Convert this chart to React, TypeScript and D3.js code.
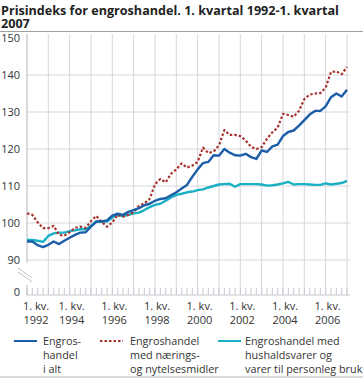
import React from 'react';
import * as d3 from 'd3';

// Quarterly index, 1. kv. 1992 - 1. kv. 2007 (61 quarters)
const startYear = 1992;

const total = [
  95.0, 95.0, 94.0, 93.5, 94.1, 95.0, 94.3, 95.2, 96.0, 96.8,
  97.4, 97.5, 99.0, 100.4, 100.4, 100.7, 102.0, 102.5, 102.2, 103.0,
  103.5, 104.0, 104.8, 105.2, 106.0, 106.5, 106.7, 107.5, 108.3, 109.3,
  110.3, 112.5, 114.5, 116.2, 116.5, 118.3, 118.2, 120.0, 119.0, 118.3,
  118.2, 118.7, 117.8, 117.3, 119.6, 119.2, 120.7, 121.2, 123.5, 124.6,
  125.0, 126.3, 127.8, 129.3, 130.3, 130.3, 131.5, 134.0, 135.0, 134.2,
  136.0,
];

const food = [
  102.6, 102.2, 100.2, 98.6, 98.6, 99.2, 96.8, 96.6, 97.5, 98.7,
  99.0, 98.7, 100.5, 101.9, 100.3, 99.0, 100.2, 102.2, 101.7, 102.2,
  103.0, 104.6, 105.3, 106.5, 110.5, 111.9, 111.0, 113.3, 114.5, 116.1,
  115.0, 115.5, 116.5, 120.4, 118.9, 119.3, 121.0, 125.1, 123.8, 123.8,
  123.5, 122.3, 120.6, 120.0, 120.5, 122.8, 124.5, 125.8, 129.5, 129.2,
  128.7, 130.3, 133.5, 134.7, 135.0, 135.1, 136.6, 140.8, 141.0, 140.2,
  142.2,
];

const household = [
  95.4, 95.4, 95.2, 94.9, 96.5, 97.2, 97.4, 97.4, 97.8, 98.0,
  98.3, 98.3, 99.2, 100.4, 100.4, 100.4, 101.5, 102.2, 101.9, 102.2,
  102.6, 102.8, 103.5, 104.3, 104.9, 105.2, 106.0, 106.9, 107.6, 107.9,
  108.3, 108.5, 108.9, 109.1, 109.6, 110.0, 110.4, 110.5, 110.6, 109.8,
  110.5, 110.5, 110.5, 110.5, 110.4, 110.1, 110.2, 110.4, 110.7, 111.1,
  110.4, 110.5, 110.5, 110.4, 110.3, 110.3, 110.7, 110.4, 110.6, 110.8,
  111.4,
];

const yTicks = [90, 100, 110, 120, 130, 140, 150];
const gridYears = [1993, 1994, 1995, 1996, 1997, 1998, 1999, 2000, 2001, 2002, 2003, 2004, 2005, 2006, 2007];
const labelYears = [1992, 1994, 1996, 1998, 2000, 2002, 2004, 2006];

const legendItems = [
  { lines: ['Engros-', 'handel', 'i alt'], color: '#1c5ea8', dash: null },
  { lines: ['Engroshandel', 'med nærings-', 'og nytelsesmidler'], color: '#a8322d', dash: '2.5,2' },
  { lines: ['Engroshandel med', 'hushaldsvarer og', 'varer til personleg bruk'], color: '#1ab0c3', dash: null },
];

const W = 363;
const H = 378;
const font = '"Open Sans", sans-serif';

export default function App() {
  const x = d3.scaleLinear().domain([1992, 2007]).range([27, 347]);
  const y = d3.scaleLinear().domain([90, 150]).range([260, 38]);
  const axisBottom = 295;
  const zeroY = 292;

  const qx = (i: number) => x(startYear + i / 4);
  const line = d3.line<number>().x((_, i) => qx(i)).y(d => y(d));

  const quarterTicks = d3.range(0, total.length);

  const series = [
    { data: household, color: legendItems[2].color, dash: null },
    { data: food, color: legendItems[1].color, dash: '2.5,2' },
    { data: total, color: legendItems[0].color, dash: null },
  ];

  const legendX = [
    { sx: 14, tx: 43 },
    { sx: 100, tx: 130 },
    { sx: 218, tx: 245 },
  ];

  return (
    <svg width={W} height={H} style={{ position: 'absolute', left: 0, top: 0 }}>
      <text x={1} y={14.5} fontFamily={font} fontWeight="bold" fontSize={12.6} fill="#222">
        Prisindeks for engroshandel. 1. kvartal 1992-1. kvartal
      </text>
      <text x={1} y={28} fontFamily={font} fontWeight="bold" fontSize={12.6} fill="#222">
        2007
      </text>
      <line x1={0} x2={W} y1={31.5} y2={31.5} stroke="#a0a0a0" strokeWidth={1} />

      {/* horizontal grid */}
      {yTicks.filter(t => t < 150).map(t => (
        <line key={t} x1={27} x2={350} y1={y(t)} y2={y(t)} stroke="#d6d6de" strokeWidth={1} />
      ))}
      {/* vertical grid */}
      {gridYears.map(yr => (
        <line key={yr} x1={x(yr)} x2={x(yr)} y1={34} y2={axisBottom} stroke="#d6d6de" strokeWidth={1} />
      ))}
      {/* quarter ticks */}
      {quarterTicks.map(i => (
        <line key={i} x1={qx(i)} x2={qx(i)} y1={axisBottom - 7} y2={axisBottom} stroke="#c8c8d0" strokeWidth={1} />
      ))}
      <line x1={27} x2={350} y1={axisBottom} y2={axisBottom} stroke="#c8c8d0" strokeWidth={1} />

      {/* y axis with break */}
      <line x1={27} x2={27} y1={34} y2={263} stroke="#b8b8c0" strokeWidth={1} />
      <line x1={27} x2={27} y1={285} y2={axisBottom} stroke="#b8b8c0" strokeWidth={1} />
      <line x1={18} x2={32} y1={268} y2={278} stroke="#c0c0c8" strokeWidth={1} />
      <line x1={18} x2={32} y1={272} y2={282} stroke="#c0c0c8" strokeWidth={1} />

      {yTicks.map(t => (
        <text key={t} x={20} y={y(t)} dy="0.35em" textAnchor="end" fontFamily={font} fontSize={11} fill="#333">
          {t}
        </text>
      ))}
      <text x={20} y={zeroY} dy="0.35em" textAnchor="end" fontFamily={font} fontSize={11} fill="#333">0</text>

      {labelYears.map((yr, k) => {
        const cx = k === 0 ? x(yr) + 9 : x(yr) + 2;
        return (
          <g key={yr}>
            <text x={cx} y={310} textAnchor="middle" fontFamily={font} fontSize={11} fill="#333">1. kv.</text>
            <text x={cx} y={323.5} textAnchor="middle" fontFamily={font} fontSize={11} fill="#333">{yr}</text>
          </g>
        );
      })}

      {series.map((s, k) => (
        <path key={k} d={line(s.data) || ''} fill="none" stroke={s.color}
          strokeWidth={s.dash ? 2.2 : 2.4} strokeDasharray={s.dash || undefined} strokeLinejoin="round" />
      ))}

      {legendItems.map((it, k) => (
        <g key={k}>
          <line x1={legendX[k].sx} x2={legendX[k].sx + 23} y1={341} y2={341} stroke={it.color}
            strokeWidth={2} strokeDasharray={it.dash || undefined} />
          {it.lines.map((l, j) => (
            <text key={j} x={legendX[k].tx} y={345 + j * 14} fontFamily={font} fontSize={10.8} fill="#333">{l}</text>
          ))}
        </g>
      ))}
      <line x1={0} x2={W} y1={377} y2={377} stroke="#b0b0b0" strokeWidth={1} />
    </svg>
  );
}
